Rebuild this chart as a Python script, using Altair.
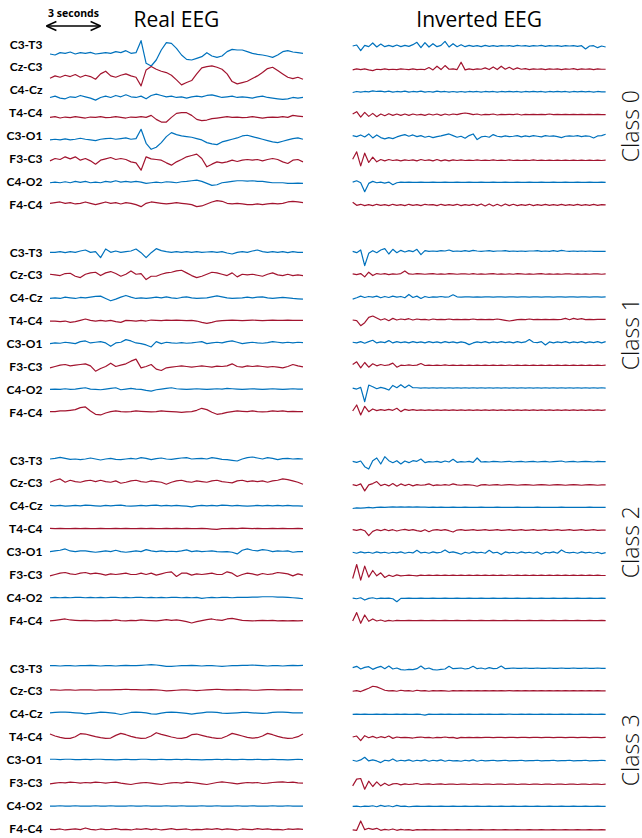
import altair as alt
import pandas as pd

# ---------------- data ----------------
CHANNELS = ["C3-T3", "Cz-C3", "C4-Cz", "T4-C4", "C3-O1", "F3-C3", "C4-O2", "F4-C4"]
CLASSES = ["Class 0", "Class 1", "Class 2", "Class 3"]
PANELS = ["Real EEG", "Inverted EEG"]
SCALE_BAR_LABEL = "3 seconds"
DURATION_S = 14.0
SCALE_BAR_S = 3.0

# amplitudes: one unit = 1/3 px, positive = up, relative to the channel row
REAL_CLASS0 = [
    [-30,-33,-26,-28,-24,-30,-26,-28,-25,-30,-28,-26,-28,-23,-26,-20,-28,-26,10,-58,-66,-48,-18,4,2,-13,-33,-46,-48,-43,-38,-26,-36,-40,-36,-23,-16,-18,-18,-23,-28,-31,-33,-36,-40,-33,-23,-20,-24,-26,-28],
    [-34,-27,-31,-25,-29,-23,-31,-25,-29,-37,-21,-13,-27,-31,-25,-21,-27,-31,-57,-9,1,-7,-13,-17,-25,-39,-54,-47,-41,-21,-3,1,3,-1,-7,-21,-44,-51,-47,-43,-35,-27,-17,-5,-1,-11,-21,-31,-35,-31,-37],
    [-23,-19,-25,-27,-21,-23,-17,-21,-25,-31,-23,-19,-23,-17,-21,-15,-21,-23,-19,-27,-17,-13,-17,-21,-19,-23,-21,-25,-21,-19,-21,-17,-15,-19,-23,-21,-19,-23,-21,-23,-25,-21,-19,-23,-25,-27,-29,-27,-23,-25,-23],
    [-14,-12,-16,-13,-15,-12,-14,-16,-13,-14,-12,-15,-14,-12,-14,-16,-13,-14,-12,-14,-8,-20,-28,-28,-14,-2,0,0,-8,-20,-24,-22,-18,-16,-14,-12,-14,-13,-15,-14,-12,-14,-16,-14,-13,-14,-12,-14,-8,-10,-12],
    [-13,-11,-13,-10,-13,-11,-8,-11,-13,-15,-11,-9,-8,-11,-9,-7,-11,-9,19,-23,-41,-35,-21,-3,9,3,-1,-3,-5,-9,-13,-21,-25,-27,-19,-15,-11,-7,-1,1,-3,-7,-11,-15,-19,-21,-17,-13,-9,-7,-11],
    [-7,0,-3,5,-1,5,-5,0,-7,-17,-5,-1,3,-3,0,-3,-10,-13,-35,5,-1,-3,-5,-13,-20,-10,-3,5,9,13,0,-25,-17,-10,-13,-10,-5,-9,-5,-3,-5,-3,-7,-3,0,-3,-10,-15,-5,-3,-10],
    [-4,-2,-4,-1,-4,0,-3,0,-4,-2,-4,0,-2,2,-2,0,-2,0,-2,-6,-4,-2,-4,-1,-2,-4,-1,0,2,4,0,-6,-12,-10,-4,-2,0,2,2,1,2,0,0,-2,-4,-4,-4,-6,-6,-5,-6],
    [3,5,7,3,5,1,3,7,3,-1,3,7,3,5,1,5,3,-1,-7,3,7,5,3,1,3,5,3,1,-1,-7,-5,1,7,11,9,3,1,3,1,-1,-1,1,-1,1,3,1,3,7,9,7,5],
]
REAL_CLASS1 = [
    [-1,-1,1,-2,1,-1,3,6,-1,1,-17,9,-1,3,-1,1,3,9,-2,-17,-2,10,4,1,-1,1,-1,1,-1,1,-1,0,1,-1,1,-3,-6,-1,1,-1,3,6,1,-1,1,-1,1,-2,1,-1,-1],
    [2,0,-2,4,5,-4,-8,2,6,8,-2,6,10,4,-4,2,12,2,4,-14,-4,-4,2,6,8,12,14,6,-2,-8,-4,2,8,6,2,-2,6,-6,2,0,2,-1,-4,2,6,0,-2,2,-2,0,-2],
    [-2,0,-2,2,0,-2,1,0,2,4,5,-2,-9,-4,2,7,2,-2,0,-2,0,2,0,3,0,-2,1,3,0,-2,-1,0,3,6,3,0,-2,-1,0,2,0,2,3,0,-2,0,1,0,-2,-3,-4],
    [-1,-1,-3,-1,-5,-3,1,5,1,-1,1,-1,1,-3,-5,1,0,-1,1,-1,2,1,0,2,1,2,1,0,1,-1,-5,-8,-5,-1,0,1,2,1,0,1,2,1,0,1,2,1,1,2,1,1,1],
    [0,2,1,4,2,0,6,8,2,4,6,2,-8,2,4,12,8,2,0,-4,-10,6,0,4,2,1,3,1,2,4,6,0,2,4,2,6,8,4,0,2,4,2,1,3,6,4,2,4,2,4,3],
    [-4,0,4,6,2,4,6,8,2,-14,-6,0,10,0,4,8,16,22,-4,0,6,-8,-12,-4,-2,0,2,0,-2,0,2,0,-2,1,0,2,8,0,-2,2,0,2,0,-2,0,-2,-4,0,6,2,-1],
    [0,1,0,2,0,1,3,5,1,0,-1,1,3,5,-1,1,3,1,0,-3,-5,-1,1,3,5,2,1,0,1,2,1,0,1,2,1,3,2,1,0,1,2,1,0,1,2,1,0,1,2,1,1],
    [2,2,4,4,6,8,14,16,4,-6,-8,-2,2,4,2,1,2,4,3,2,1,2,4,3,2,1,0,1,2,6,12,8,0,-6,-4,0,2,4,3,2,4,2,1,2,4,3,4,2,3,2,2],
]
REAL_CLASS2 = [
    [3,5,8,5,2,3,1,3,6,3,0,3,5,2,1,3,5,3,7,5,1,4,6,3,2,4,6,7,3,4,5,3,7,5,2,1,-1,-3,3,7,9,6,3,7,5,1,4,5,3,4,3],
    [2,8,12,2,8,4,2,6,8,4,8,4,2,6,-1,2,6,8,4,2,6,4,2,-4,2,6,8,4,2,6,4,2,6,8,4,2,0,6,8,4,6,4,6,2,6,8,12,10,6,2,-4],
    [1,0,1,-1,0,1,0,2,1,0,-1,1,0,1,2,0,-1,0,1,0,1,2,0,1,0,1,0,-1,-3,0,1,0,1,0,2,1,0,1,0,-1,0,1,0,1,0,1,0,1,0,0,-1],
    [1,0,1,0,0,1,0,1,0,0,1,0,0,1,0,1,0,0,1,0,1,0,0,1,0,1,0,1,0,0,1,0,-1,-2,0,0,1,0,2,1,0,1,0,0,1,0,1,0,0,1,0],
    [0,2,4,8,2,0,2,2,0,-2,0,2,0,4,0,-2,0,2,0,6,2,0,2,0,1,0,2,5,0,2,0,1,2,0,-1,0,-2,-7,4,8,4,2,6,4,0,2,1,2,-2,0,0],
    [-4,0,4,6,2,0,4,6,2,4,2,-2,2,0,2,4,0,0,4,0,4,-2,2,6,8,-6,4,4,-2,2,0,2,4,0,0,8,4,-6,0,4,2,-2,3,0,2,6,4,2,-4,2,-2],
    [-1,0,-1,0,-1,0,0,-1,0,-1,0,-1,0,0,-1,0,-1,0,0,-1,0,-1,0,-1,0,0,-1,0,-1,0,-3,-1,0,-1,0,0,-1,0,0,0,1,1,2,2,2,1,1,0,-1,-2,-4],
    [-2,0,2,4,1,0,-1,0,-1,-2,-1,0,-1,1,-1,-2,0,-1,1,0,-1,-2,0,2,0,1,-1,-4,-8,-4,-1,2,4,1,0,4,6,3,0,-1,-2,-1,0,-1,0,-2,-1,-2,-1,-2,-1],
]
REAL_CLASS3 = [
    [7,7,6,7,7,6,7,7,8,7,6,7,7,6,7,8,7,7,8,9,10,9,7,5,5,6,7,7,8,7,6,7,7,6,5,6,7,7,8,8,9,8,7,6,7,7,6,7,8,7,8],
    [3,3,2,3,3,2,3,3,3,2,3,3,3,4,4,5,4,4,3,3,4,3,2,0,1,2,3,3,2,1,2,3,4,5,4,3,3,4,3,3,2,2,3,4,4,3,3,4,3,3,3],
    [3,4,5,5,4,3,2,0,1,3,5,4,3,1,-2,1,4,5,4,3,0,-1,2,4,5,4,3,1,-1,1,3,5,5,4,2,1,2,3,4,4,3,2,1,2,4,5,5,4,3,3,3],
    [8,2,-2,-5,-5,0,9,8,4,0,-3,-5,-4,4,10,6,1,-3,-5,-4,2,12,7,3,-1,-4,-5,-2,6,8,4,0,-3,-5,-4,2,10,6,2,-2,-4,-3,2,10,6,1,-3,-5,-4,0,8],
    [1,1,0,1,1,0,0,1,0,1,1,0,0,-1,0,1,0,0,1,1,0,0,1,0,0,1,0,1,0,0,-1,0,0,1,0,1,0,0,1,0,0,1,0,0,1,0,0,-1,0,1,0],
    [-4,-2,0,-1,1,0,-2,0,-1,1,0,-2,0,1,-2,-4,-6,-3,-1,0,-2,-4,-6,-3,-1,0,-2,1,0,-2,-4,-6,-3,0,2,0,-2,-4,-2,0,-1,0,-3,-2,0,1,2,0,1,-1,-2],
    [-2,-2,-1,-2,-2,-1,-2,-2,-2,-1,-2,-2,-1,-2,-2,-2,-1,-2,-2,-1,-2,-2,-2,-1,-2,-2,-1,-2,-2,-2,-1,-2,-2,-1,-2,-2,-2,-1,-2,-2,-1,-2,-2,-2,-1,-2,-2,-1,-2,-2,-2],
    [-3,-4,-2,-5,-3,-2,-4,1,-3,-5,-2,-4,-3,-1,-4,-3,-5,-2,-3,-1,-4,-2,-5,-3,-1,-4,-3,-2,-5,-3,-4,-2,-3,-1,-4,-2,-3,-5,-2,-3,-4,-1,-3,-2,-4,-3,-5,-2,-3,-2,-3],
]

INV_CLASS0 = [
    [-6,-3,-20,-4,-8,3,-9,0,-8,-4,-8,-3,-8,-4,-7,-2,5,-11,4,-9,1,-8,-4,8,-9,1,-8,-2,-8,-4,-7,-5,-8,-4,-7,-5,-7,-5,-6,-5,-7,-4,-6,-5,-7,-5,-6,-4,-7,-5,-6,-5,-7,-5,-6,-5,-7,-5,-15,-6,-5,-11,-6,-9],
    [-9,-6,-8,-6,-9,-11,-7,-8,-6,-8,-7,-8,-6,-7,-8,-6,-8,-7,-8,-2,-9,2,-8,4,-7,-6,-8,14,-9,-6,-8,-6,-7,-3,-8,0,-8,2,-7,-1,-8,-3,-7,-5,-8,-6,-7,-6,-8,-6,-7,-6,-8,-6,-7,-5,-8,-6,-7,-6,-8,-6,-7,-7],
    [-8,-5,-7,-5,-6,-3,-5,-4,-6,-4,-7,-5,-6,-4,-7,-5,-6,-4,-7,-5,-7,-4,-6,-5,-7,-5,-7,-5,-7,-5,-6,-5,-7,-5,-6,-5,-7,-5,-6,-5,-6,-5,-7,-5,-6,-5,-6,-5,-7,-5,-6,-5,-6,-5,-7,-5,-6,-5,-6,-5,-7,-5,-6,-6],
    [-4,3,-13,1,-11,-2,-12,-4,-9,-3,-8,-4,-8,-4,-8,-4,-7,-5,-8,-4,-7,-4,-8,-4,-7,-4,-6,-3,-1,-3,-6,-4,-7,-5,-6,-4,-7,-5,-6,-5,-6,-4,-7,-5,-6,-5,-6,-5,-6,-4,-6,-5,-6,-5,-6,-5,-6,-5,-6,-5,-6,-5,-6,-6],
    [0,-3,2,-4,5,-7,2,-6,-10,-6,-9,-4,0,3,-2,2,-3,0,-5,-2,-6,-3,-1,2,5,0,-5,-2,-8,0,5,-12,-4,-2,-5,3,-2,-4,-1,-3,-2,0,-4,-1,-3,0,-2,-4,0,-2,-1,-3,-6,-2,-1,-2,0,-3,-1,-2,-7,-1,0,4],
    [-2,20,-22,16,-12,4,-10,-3,-7,-3,-6,-4,-7,-4,-6,-4,-7,-3,-6,-4,-7,-3,-7,-4,-7,-4,-6,-4,-6,-5,-6,-4,-6,-5,-6,-4,-6,-5,-6,-4,-6,-5,-6,-5,-6,-4,-6,-5,-6,-5,-6,-5,-6,-5,-6,-5,-6,-5,-6,-5,-6,-5,-6,-5],
    [-2,2,-4,-31,-6,0,-4,-2,-5,-2,-10,-4,-2,-3,-2,-3,-3,-2,-3,-3,-2,-3,-3,-2,-3,-3,-2,-3,-3,-2,-3,-3,-2,-3,-3,-2,-3,-3,-2,-3,-3,-2,-3,-3,-2,-3,-3,-2,-3,-3,-2,-3,-3,-2,-3,-3,-2,-3,-3,-2,-3,-3,-2,-3],
    [6,-3,0,-4,-1,-4,0,-3,-1,-4,0,-3,-1,-4,0,-3,-1,-4,0,-2,-1,-4,0,-3,-1,-3,0,-4,-1,-3,0,-4,1,-5,1,-5,0,-5,1,-4,0,-4,-1,-3,0,-4,-1,-3,0,-3,-1,-3,0,-3,-1,-3,0,-3,-1,-3,0,-3,-1,-2],
]
INV_CLASS1 = [
    [2,-2,6,-41,-4,4,-2,6,10,-6,8,-2,5,0,4,1,8,-8,4,2,3,2,4,3,6,2,3,2,4,2,5,3,2,3,4,2,3,3,4,2,3,2,3,2,3,3,4,2,3,2,4,2,5,3,2,3,2,3,2,3,2,2,2,2],
    [3,1,4,-6,8,-2,4,2,4,1,3,2,4,12,3,2,4,3,2,3,4,2,3,2,4,3,2,3,3,2,4,2,3,2,3,4,2,3,2,3,2,4,3,2,3,2,3,4,2,3,2,3,2,3,3,2,3,2,3,2,3,3,2,3],
    [-4,0,5,1,4,2,5,0,4,1,5,2,4,0,10,1,5,-2,4,1,3,2,4,2,3,9,3,2,3,3,2,3,2,3,3,2,3,3,2,3,3,2,3,3,2,3,3,2,3,3,2,3,3,2,3,3,2,3,3,2,3,3,2,3],
    [2,0,-15,-6,10,14,8,2,6,0,7,2,5,3,6,2,5,3,4,2,5,3,4,3,5,3,4,3,4,3,5,3,4,3,4,3,5,3,1,-1,1,3,4,3,5,3,4,3,4,3,4,3,4,7,3,7,4,6,3,4,3,4,4,4],
    [4,2,6,1,6,10,2,5,3,9,2,6,3,5,2,6,3,5,2,6,3,5,2,6,3,5,2,5,3,-3,2,5,3,6,2,5,3,6,3,5,2,6,3,5,12,4,3,6,-4,5,2,5,3,6,2,5,3,6,2,5,3,6,2,6],
    [6,14,-4,12,-2,8,2,6,3,5,10,-2,4,3,5,3,4,9,3,4,3,4,3,5,3,4,3,4,3,4,3,4,3,4,3,4,3,4,3,4,3,4,3,4,3,4,3,4,3,4,3,4,3,4,3,4,3,4,3,4,3,4,3,4],
    [4,1,6,-37,13,8,2,6,3,-2,12,5,14,5,13,5,5,4,5,4,5,4,5,4,5,4,5,4,5,4,5,4,5,4,5,4,5,4,5,4,5,4,5,4,5,4,5,4,5,4,5,4,5,4,5,4,5,4,5,4,5,4,5,4],
    [4,22,-8,18,2,10,5,8,6,9,6,12,2,9,6,8,6,7,6,7,6,7,6,7,6,7,6,7,6,7,6,7,6,7,6,7,6,7,6,7,6,7,6,7,6,7,6,7,6,7,6,7,6,7,6,7,6,7,6,7,6,7,6,7],
]
INV_CLASS2 = [
    [-4,-7,-3,-20,-27,-2,6,-12,10,-2,-8,-2,-12,-3,-8,-2,-4,3,-8,-5,-6,-4,-7,-3,-6,2,-7,-5,-6,-4,-7,6,-6,-5,-6,-4,-5,-6,-5,-4,-6,-5,-4,-6,-5,-4,-6,-5,-4,-6,-5,-4,-3,-6,-5,-4,-6,-5,-4,-5,-6,-4,-5,-5],
    [-5,-8,-3,-24,-6,-2,4,-8,-4,-9,-2,-10,-3,-8,-4,-9,-5,-7,-6,-3,-8,-6,-7,-5,-7,-3,-6,-7,-5,-6,-7,-10,-6,-5,-7,-6,-5,-7,-6,-5,-6,-7,-6,-5,-6,-7,-6,-5,-6,-7,-6,-5,-6,-7,-6,-5,-6,-7,-6,-5,-6,-7,-6,-6],
    [-8,-6,-7,-6,-5,-6,-5,-4,-5,-4,-3,-4,-3,-4,-3,-4,-3,-4,-4,-5,-4,-5,-4,-5,-5,-4,-5,-5,-4,-5,-5,-5,-4,-5,-5,-5,-4,-5,-5,-5,-5,-4,-5,-5,-5,-5,-4,-5,-5,-5,-5,-5,-4,-5,-5,-5,-5,-5,-5,-4,-5,-5,-5,-5],
    [-3,-5,-2,-6,-21,-8,-3,-6,-2,-6,-3,-7,-4,-2,-5,-3,-6,-8,-3,-9,-4,-3,-5,-3,-6,-10,-4,-3,-5,-4,-3,-5,-4,-3,-5,-4,-3,-5,-4,-3,-5,-4,-3,-5,-4,-3,-5,-4,-3,-5,-4,-3,-5,-4,-3,-5,-4,-3,-5,-4,-3,-5,-4,-4],
    [-2,-5,-1,-4,-2,-5,-1,-4,-2,-5,-2,-4,-1,-5,-2,-4,4,-4,-2,-5,-1,-4,-2,5,-3,-1,-4,-8,-2,-5,-1,-4,-2,-5,4,-4,-2,-9,-1,-4,-2,-5,-1,-4,-2,-5,-1,-8,-2,-4,-1,-5,5,-2,-4,-2,-5,-1,-4,-2,-5,-2,-6,-3],
    [-12,30,-17,25,-8,12,-4,5,-9,-2,-6,-1,-4,-3,-2,-3,-4,-2,-3,-2,-3,-2,-3,-2,-3,-2,-3,-2,-3,-2,-3,-2,-3,-2,-3,-2,-3,-2,-3,-2,-3,-2,-3,-2,-3,-2,-3,-2,-3,-2,-3,-2,-3,-2,-3,-2,-3,-2,-3,-2,-3,-2,-3,-3],
    [-2,-4,-1,-8,-3,-1,-4,-2,-3,-2,-4,-13,-3,-3,-2,-3,-3,-2,-3,-3,-2,-3,-3,-2,-3,-3,-2,-3,-3,-2,-3,-3,-2,-3,-3,-2,-3,-3,-2,-3,-3,-2,-3,-3,-2,-3,-3,-2,-3,-3,-2,-3,-3,-2,-3,-3,-2,-3,-3,-2,-3,-3,-2,-3],
    [-2,23,-9,16,-3,4,-2,1,-3,0,-2,0,-1,-1,0,-1,-1,0,-1,-1,0,-1,-1,0,-1,-1,0,-1,-1,0,-1,-1,0,-1,-1,0,-1,-1,0,-1,-1,0,-1,-1,0,-1,-1,0,-1,-1,0,-1,-1,0,-1,-1,0,-1,-1,0,-1,-1,0,-1],
]
INV_CLASS3 = [
    [1,5,-3,2,4,-4,1,5,-2,6,-3,0,-5,-6,-4,-5,-2,6,-3,0,-5,-6,-4,-3,5,-2,-1,0,-3,-1,5,-2,0,-3,1,-2,-1,6,-2,-1,0,-1,-1,0,-1,-1,0,-1,-1,0,-1,-1,0,-1,-1,0,-1,-1,0,-1,-1,0,-1,-1],
    [-1,1,-2,3,8,14,12,7,2,0,1,-1,2,0,1,-1,2,0,1,-1,1,0,1,0,-1,1,0,1,0,1,0,1,0,1,0,1,0,1,0,1,0,1,0,1,0,1,0,1,0,1,0,1,0,1,0,1,0,1,0,1,0,1,0,0],
    [-2,-1,-2,-1,-2,-2,-1,-2,-1,-2,-2,-1,-2,-1,-2,-2,-1,-2,-4,-1,-2,-2,-1,-2,-1,-2,-2,-1,-2,-1,-2,-2,-1,-2,-1,-2,-2,-1,-2,-1,-2,-2,-1,-2,-1,-2,-2,-1,-2,-1,-2,-2,-1,-2,-1,-2,-2,-1,-2,-1,-2,-2,-1,-2],
    [-1,2,-12,3,-3,1,-4,0,-3,2,-5,-1,-3,-2,-3,-4,-2,-1,-3,-2,-4,-2,-3,-1,-3,-2,-5,-2,-3,-2,-3,-2,-3,-2,-2,-3,-2,-2,-3,-2,-2,-3,-2,-2,-3,-2,-2,-3,-2,-2,-3,-2,-2,-3,-2,-2,-3,-2,-2,-3,-2,-2,-3,-2],
    [-2,-5,-1,7,-4,-1,-4,-9,-2,-4,2,-5,-2,-4,-1,-5,-2,-4,-1,-5,-2,-4,-1,-5,-2,-4,-3,-5,-2,-4,-1,-5,-2,-4,-3,-2,-4,-3,-2,-4,-3,-3,-2,-4,-3,-3,-2,-4,-3,-3,-2,-4,-3,-3,-2,-4,-3,-3,-2,-4,-3,-3,-2,-3],
    [-10,10,12,-20,4,-12,2,-10,-2,-9,-4,-3,-7,-4,-6,-5,-3,-6,-5,-4,-6,-5,-4,-6,-5,-5,-6,-5,-5,-6,-5,-5,-6,-5,-5,-6,-5,-5,-6,-5,-5,-6,-5,-5,-6,-5,-5,-6,-5,-5,-6,-5,-5,-6,-5,-5,-6,-5,-5,-6,-5,-5,-6,-5],
    [-3,-2,-4,-2,-3,-1,-4,0,-3,-1,-4,0,-3,-2,-4,-3,-2,-3,-3,-2,-3,-3,-2,-3,-3,-2,-3,-3,-2,-3,-3,-2,-3,-3,-2,-3,-3,-2,-3,-3,-2,-3,-3,-2,-3,-3,-2,-3,-3,-2,-3,-3,-2,-3,-3,-2,-3,-3,-2,-3,-3,-2,-3,-3],
    [-5,-6,22,-4,0,-3,0,-6,-3,-5,-2,-6,-3,-5,-4,-6,-4,-5,-4,-5,-4,-5,-5,-4,-5,-5,-4,-5,-5,-4,-5,-5,-4,-5,-5,-4,-5,-5,-4,-5,-5,-4,-5,-5,-4,-5,-5,-4,-5,-5,-4,-5,-5,-4,-5,-5,-4,-5,-5,-4,-5,-5,-4,-5],
]

# ---------------- layout constants ----------------
BLUE = "#0072BD"
RED = "#A2142F"
GAP_S = 2.75                      # blank time between the two panels
INV_START = DURATION_S + GAP_S
X_MAX = INV_START + DURATION_S + 0.02
CH_STEP = 68.7                    # amplitude units between channel rows
CLASS_STEP = 624.0                # amplitude units between class blocks
Y_MIN, Y_MAX = -42.0, 2382.0

REAL = [REAL_CLASS0, REAL_CLASS1, REAL_CLASS2, REAL_CLASS3]
INV = [INV_CLASS0, INV_CLASS1, INV_CLASS2, INV_CLASS3]

rows = []
for p, groups in enumerate([REAL, INV]):
    for c, traces in enumerate(groups):
        for ch, vals in enumerate(traces):
            n = len(vals)
            for i, v in enumerate(vals):
                rows.append({
                    "trace": f"{p}-{c}-{ch}",
                    "i": i,
                    "t": p * INV_START + DURATION_S * i / (n - 1),
                    "y": c * CLASS_STEP + ch * CH_STEP - v,
                    "pair": "blue" if ch % 2 == 0 else "red",
                })
df = pd.DataFrame(rows)

xs = alt.Scale(domain=[0, X_MAX], nice=False, zero=False)
ys = alt.Scale(domain=[Y_MIN, Y_MAX], reverse=True, nice=False, zero=False)
tick_vals = [c * CLASS_STEP + ch * CH_STEP for c in range(4) for ch in range(8)]
names = ",".join(f"'{n}'" for n in CHANNELS)
y_axis = alt.Axis(
    values=tick_vals,
    labelExpr=f"[{names}][round((datum.value % {CLASS_STEP}) / {CH_STEP})]",
    domain=False, ticks=False, grid=False, title=None,
    labelPadding=8, labelFont="Lato", labelFontSize=12, labelFontWeight="bold",
    labelColor="black", labelOverlap=False, labelBound=False,
)


def X(field="t"):
    return alt.X(f"{field}:Q", scale=xs, axis=None)


def Y(field="y"):
    return alt.Y(f"{field}:Q", scale=ys, axis=y_axis)


lines = alt.Chart(df).mark_line(strokeWidth=1.2, strokeJoin="round").encode(
    x=X(), y=Y(),
    detail="trace:N",
    order="i:Q",
    color=alt.Color("pair:N", scale=alt.Scale(domain=["blue", "red"], range=[BLUE, RED]), legend=None),
)

titles_df = pd.DataFrame({
    "label": PANELS,
    "t": [DURATION_S / 2, INV_START + DURATION_S / 2],
    "y": [-51.0, -51.0],
})
titles = alt.Chart(titles_df).mark_text(
    font="Open Sans", fontSize=21, align="center", baseline="alphabetic", color="black"
).encode(x=X(), y=Y(), text="label:N")

class_df = pd.DataFrame({
    "label": CLASSES,
    "t": [32.6] * 4,
    "y": [c * CLASS_STEP + 3.5 * CH_STEP + 6 for c in range(4)],
})
class_text = alt.Chart(class_df).mark_text(
    font="Open Sans", fontSize=23, fontWeight=300, angle=270, align="center",
    baseline="alphabetic", color="#111111"
).encode(x=X(), y=Y(), text="label:N")

bar_df = pd.DataFrame({"t": [-0.2], "t2": [-0.2 + SCALE_BAR_S], "y": [-54.0],
                       "label": [SCALE_BAR_LABEL], "tm": [-0.2 + SCALE_BAR_S / 2], "ty": [-81.0]})
bar = alt.Chart(bar_df).mark_rule(strokeWidth=1.4, color="black").encode(
    x=X(), x2="t2:Q", y=Y()
)
head_l = alt.Chart(bar_df).mark_point(
    shape="M0,0L1,-0.45M0,0L1,0.45", size=400, filled=False, strokeWidth=1.4, color="black", opacity=1
).encode(x=X(), y=Y())
head_r = alt.Chart(bar_df).mark_point(
    shape="M0,0L-1,-0.45M0,0L-1,0.45", size=400, filled=False, strokeWidth=1.4, color="black", opacity=1
).encode(x=X("t2"), y=Y())
bar_text = alt.Chart(bar_df).mark_text(
    font="Open Sans", fontSize=10.5, fontWeight="bold", align="center", baseline="alphabetic", color="black"
).encode(x=X("tm"), y=Y("ty"), text="label:N")

chart = alt.layer(lines, titles, class_text, bar, head_l, head_r, bar_text).properties(
    width=556, height=808,
    padding={"left": 50, "top": 30, "right": 36, "bottom": 0},
    autosize=alt.AutoSizeParams(type="none"),
    background="white",
).configure_view(stroke=None)

chart.save("out.html", embed_options={"renderer": "svg", "actions": False})
